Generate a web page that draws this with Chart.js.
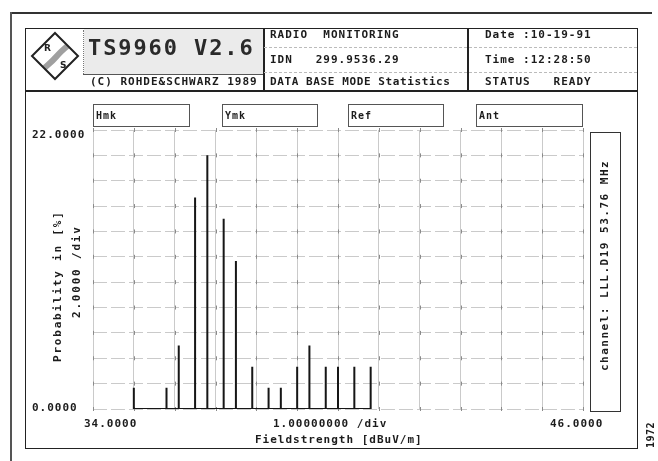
<!DOCTYPE html>
<html>
<head>
<meta charset="utf-8">
<title>TS9960 V2.6 - Statistics</title>
<script src="https://cdn.jsdelivr.net/npm/chart.js@4.4.0/dist/chart.umd.min.js"></script>
<style>
  body { margin: 0; background: #fff; }
  #screen { position: relative; width: 658px; height: 461px; overflow: hidden;
            font-family: "DejaVu Sans Mono", monospace; font-weight: bold; font-size: 11px; color: #1c1c1c; }
  #chart { position: absolute; left: 0; top: 0; }
  .t { position: absolute; white-space: pre; letter-spacing: 1px; line-height: 12px; }
  .v { position: absolute; white-space: pre; width: 12px; line-height: 12px; letter-spacing: 1.5px;
       writing-mode: vertical-rl; transform: rotate(180deg); text-align: center; }
  .ln { position: absolute; background: #222; }
  .box { position: absolute; border: 1px solid #555; box-sizing: border-box; }
  .box span { position: absolute; left: 2px; top: 5px; font-size: 10px; letter-spacing: 1px; }
</style>
</head>
<body>
<div id="screen">
  <canvas id="chart" width="658" height="461"></canvas>

  <!-- page edges and main frame -->
  <div class="ln" style="left:10px;top:12px;width:642px;height:2px;background:#333"></div>
  <div class="ln" style="left:10px;top:12px;width:1.5px;height:449px;background:#555"></div>
  <div class="box" style="left:25px;top:28px;width:613px;height:421px;border:1.5px solid #222"></div>

  <!-- header -->
  <div style="position:absolute;left:84px;top:29px;width:179px;height:45px;background:#ebebeb"></div>
  <div class="ln" style="left:25px;top:90px;width:613px;height:1.5px"></div>
  <div class="ln" style="left:263px;top:28px;width:1.5px;height:62px"></div>
  <div class="ln" style="left:467px;top:28px;width:1.5px;height:62px"></div>
  <div class="ln" style="left:83px;top:30px;width:0;height:44px;background:none;border-left:1px dotted #777"></div>
  <div class="ln" style="left:83px;top:74px;width:180px;height:1px;background:#555"></div>
  <div class="ln" style="left:264px;top:47px;width:373px;height:0;background:none;border-top:1px dashed #bbb"></div>
  <div class="ln" style="left:264px;top:72px;width:373px;height:0;background:none;border-top:1px dashed #bbb"></div>

  <svg style="position:absolute;left:0;top:0" width="100" height="100">
    <defs>
      <clipPath id="diamond"><polygon points="55,34 77,56 55,78 33,56"/></clipPath>
    </defs>
    <polygon points="55,33 78,56 55,79 32,56" fill="#fff"/>
    <g clip-path="url(#diamond)">
      <path d="M72,42 C65,48 61,51 56,57 C51,63 47,65 40,72" fill="none" stroke="#a0a0a0" stroke-width="6"/>
      <polygon points="36,62 46,70 42,76 30,66" fill="#222"/>
    </g>
    <polygon points="55,33 78,56 55,79 32,56" fill="none" stroke="#222" stroke-width="2"/>
    <text x="44" y="51" font-family="DejaVu Sans" font-weight="bold" font-size="9" fill="#222">R</text>
    <text x="60" y="68" font-family="DejaVu Sans" font-weight="bold" font-size="9" fill="#222">S</text>
  </svg>

  <div class="t" style="left:88px;top:36px;font-size:22px;line-height:24px;font-weight:bold;color:#2a2a2a;letter-spacing:1.9px">TS9960 V2.6</div>
  <div class="t" style="left:90px;top:76px">(C) ROHDE&amp;SCHWARZ 1989</div>
  <div class="t" style="left:270px;top:29px">RADIO  MONITORING</div>
  <div class="t" style="left:270px;top:54px">IDN   299.9536.29</div>
  <div class="t" style="left:270px;top:76px;letter-spacing:0.6px">DATA BASE MODE Statistics</div>
  <div class="t" style="left:485px;top:29px">Date :10-19-91</div>
  <div class="t" style="left:485px;top:54px">Time :12:28:50</div>
  <div class="t" style="left:485px;top:76px">STATUS   READY</div>

  <!-- marker fields -->
  <div class="box" style="left:93px;top:104px;width:97px;height:23px"><span>Hmk</span></div>
  <div class="box" style="left:222px;top:104px;width:96px;height:23px"><span>Ymk</span></div>
  <div class="box" style="left:348px;top:104px;width:96px;height:23px"><span>Ref</span></div>
  <div class="box" style="left:476px;top:104px;width:107px;height:23px"><span>Ant</span></div>

  <!-- channel panel -->
  <div class="box" style="left:590px;top:132px;width:31px;height:280px;border:1.5px solid #333"></div>
  <div class="v" id="channel" style="left:599px;top:155px;height:220px"></div>

  <!-- axis texts -->
  <div class="t" id="yMax" style="left:32px;top:129px"></div>
  <div class="t" id="yMin" style="left:32px;top:402px"></div>
  <div class="t" id="xMin" style="left:84px;top:418px"></div>
  <div class="t" id="xMax" style="left:550px;top:418px"></div>
  <div class="t" id="xDiv" style="left:273px;top:418px"></div>
  <div class="t" id="xTitle" style="left:255px;top:434px"></div>
  <div class="v" id="yTitle" style="left:52px;top:196px;height:180px;letter-spacing:1.8px"></div>
  <div class="v" id="yDiv" style="left:71px;top:182px;height:180px;letter-spacing:1.8px"></div>
  <div class="v" style="left:645px;top:415px;height:40px;font-size:10px;letter-spacing:0.5px">1972</div>
</div>

<script>
// level classes (dBuV/m) and their share of all measurements (%)
const fieldValues = [35.0, 35.8, 36.1, 36.5, 36.8, 37.2, 37.5, 37.9, 38.3, 38.6, 39.0, 39.3, 39.7, 40.0, 40.4, 40.8];
const probValues  = [1.67, 1.67, 5.0, 16.67, 20.0, 15.0, 11.67, 3.33, 1.67, 1.67, 3.33, 5.0, 3.33, 3.33, 3.33, 3.33];

const xRange = [34, 46];
const yRange = [0, 22];
const xTickLabels = ['34.0000', '46.0000'];
const yTickLabels = ['0.0000', '22.0000'];
const xDivLabel = '1.00000000 /div';
const yDivLabel = '2.0000 /div';
const xTitle = 'Fieldstrength [dBuV/m]';
const yTitle = 'Probability in [%]';
const channelLabel = 'channel: LLL.D19 53.76 MHz';

document.getElementById('xMin').textContent = xTickLabels[0];
document.getElementById('xMax').textContent = xTickLabels[1];
document.getElementById('yMin').textContent = yTickLabels[0];
document.getElementById('yMax').textContent = yTickLabels[1];
document.getElementById('xDiv').textContent = xDivLabel;
document.getElementById('yDiv').textContent = yDivLabel;
document.getElementById('xTitle').textContent = xTitle;
document.getElementById('yTitle').textContent = yTitle;
document.getElementById('channel').textContent = channelLabel;

// each class is a vertical stroke up from the zero line
const sticks = [];
for (let i = 0; i < fieldValues.length; i++) {
  sticks.push({ x: fieldValues[i], y: 0 });
  sticks.push({ x: fieldValues[i], y: probValues[i] });
  sticks.push({ x: fieldValues[i], y: 0 });
}

// small marks where the grid lines cross
const crossMarks = {
  id: 'crossMarks',
  beforeDatasetsDraw(chart) {
    const ctx = chart.ctx;
    const xs = chart.scales.x, ys = chart.scales.y;
    ctx.save();
    ctx.strokeStyle = '#8a8a8a';
    ctx.lineWidth = 1;
    xs.ticks.forEach(tx => {
      const px = Math.round(xs.getPixelForValue(tx.value)) + 0.5;
      ys.ticks.forEach(ty => {
        const py = ys.getPixelForValue(ty.value);
        ctx.beginPath();
        ctx.moveTo(px, py - 2);
        ctx.lineTo(px, py + 2);
        ctx.stroke();
      });
    });
    ctx.restore();
  }
};

new Chart(document.getElementById('chart'), {
  type: 'scatter',
  data: {
    datasets: [{
      data: sticks,
      showLine: true,
      borderColor: '#161616',
      borderWidth: 2,
      pointRadius: 0,
      tension: 0
    }]
  },
  options: {
    responsive: false,
    animation: false,
    devicePixelRatio: 1,
    layout: { padding: { left: 93, right: 75, top: 130, bottom: 52 } },
    plugins: { legend: { display: false }, tooltip: { enabled: false } },
    scales: {
      x: {
        type: 'linear',
        min: xRange[0], max: xRange[1],
        ticks: { display: false, stepSize: 1 },
        grid: { color: '#cacaca', lineWidth: 1, drawTicks: false },
        border: { display: false },
        afterFit(s) { s.height = 0; }
      },
      y: {
        min: yRange[0], max: yRange[1],
        ticks: { display: false, stepSize: 2 },
        grid: { color: '#cacaca', lineWidth: 1, drawTicks: false },
        border: { display: false, dash: [14, 4] },
        afterFit(s) { s.width = 0; }
      }
    }
  },
  plugins: [crossMarks]
});
</script>
</body>
</html>
